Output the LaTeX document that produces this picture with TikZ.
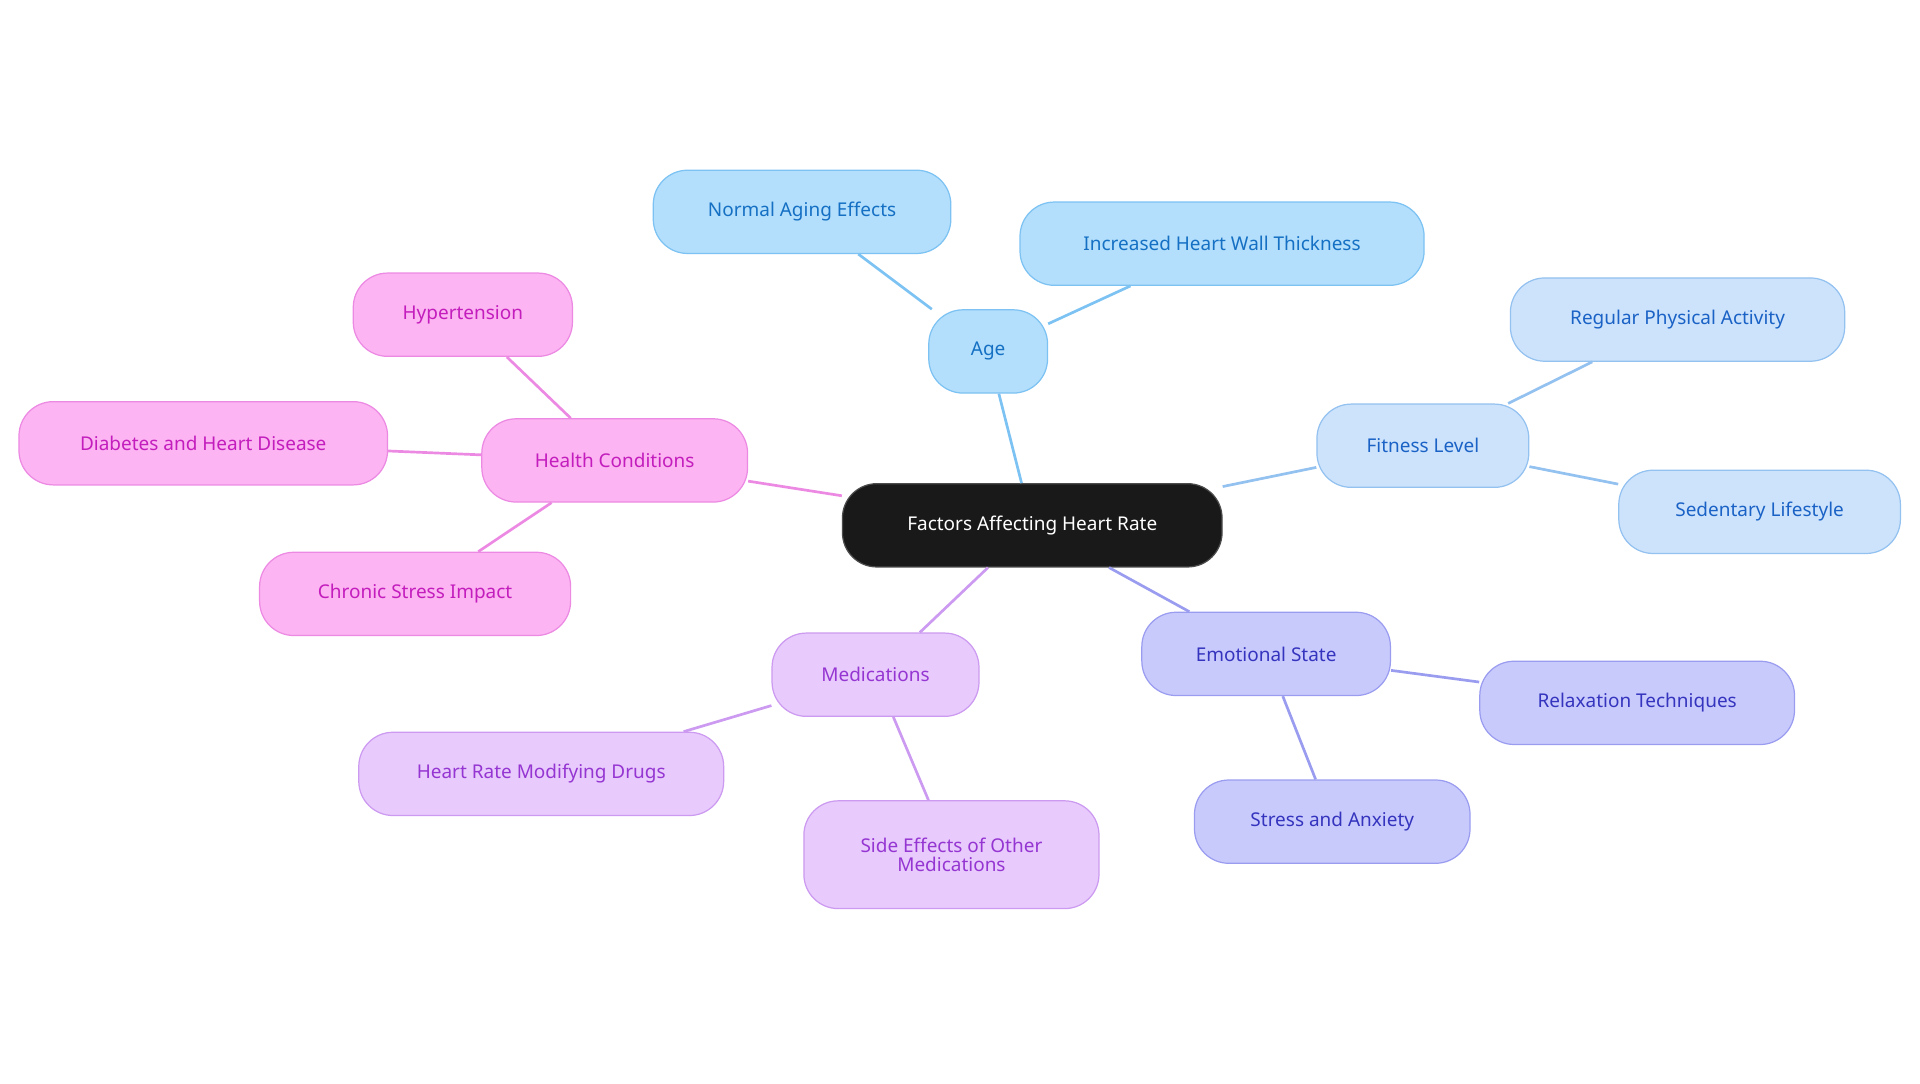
\documentclass[tikz,border=0pt]{standalone}
\usepackage{fontspec}
\setmainfont{Noto Sans}
\begin{document}
\begin{tikzpicture}[x=1pt,y=-1pt,
 box/.style={draw,line width=1pt,rounded corners=28pt,minimum height=68pt,inner sep=0pt,align=center,font=\fontsize{15.5}{19}\selectfont},
 age/.style={box,fill=ageF,draw=ageD,text=ageT},
 fit/.style={box,fill=fitF,draw=fitD,text=fitT},
 emo/.style={box,fill=emoF,draw=emoD,text=emoT},
 med/.style={box,fill=medF,draw=medD,text=medT},
 hea/.style={box,fill=heaF,draw=heaD,text=heaT},
 e/.style={line width=2.2pt}]
\definecolor{ageF}{HTML}{B3DFFC}\definecolor{ageD}{HTML}{7CC2F2}\definecolor{ageT}{HTML}{1570C4}
\definecolor{fitF}{HTML}{CDE3FB}\definecolor{fitD}{HTML}{93C1F0}\definecolor{fitT}{HTML}{1A62C6}
\definecolor{emoF}{HTML}{C9CAFC}\definecolor{emoD}{HTML}{9A9CF0}\definecolor{emoT}{HTML}{3434BE}
\definecolor{medF}{HTML}{E8CBFC}\definecolor{medD}{HTML}{CC9AF0}\definecolor{medT}{HTML}{9535D2}
\definecolor{heaF}{HTML}{FCB4F2}\definecolor{heaD}{HTML}{EC8AE3}\definecolor{heaT}{HTML}{C31DBD}
\useasboundingbox (0,0) rectangle (1568,884.5);
\node[box,fill=black!88!blue!60!black,fill=black!90,draw=black!70,text=white,minimum width=310pt] (c) at (843,429) {Factors Affecting Heart Rate};
\node[age,minimum width=97pt] (age) at (807,287) {Age};
\node[age,minimum width=243pt] (nae) at (655,173) {Normal Aging Effects};
\node[age,minimum width=330pt] (ihw) at (998,199) {Increased Heart Wall Thickness};
\node[fit,minimum width=173pt] (fit) at (1162,364) {Fitness Level};
\node[fit,minimum width=273pt] (rpa) at (1370,261) {Regular Physical Activity};
\node[fit,minimum width=230pt] (sed) at (1437,418) {Sedentary Lifestyle};
\node[emo,minimum width=203pt] (emo) at (1034,534) {Emotional State};
\node[emo,minimum width=257pt] (rel) at (1337,574) {Relaxation Techniques};
\node[emo,minimum width=225pt] (sa) at (1088,671) {Stress and Anxiety};
\node[med,minimum width=169pt] (med) at (715,551) {Medications};
\node[med,minimum width=298pt] (hrm) at (442,632) {Heart Rate Modifying Drugs};
\node[med,minimum width=241pt,minimum height=88pt] (se) at (777,698) {Side Effects of Other\\[-3pt]Medications};
\node[hea,minimum width=217pt] (hc) at (502,376) {Health Conditions};
\node[hea,minimum width=179pt] (hyp) at (378,257) {Hypertension};
\node[hea,minimum width=301pt] (dia) at (166,362) {Diabetes and Heart Disease};
\node[hea,minimum width=254pt] (csi) at (339,485) {Chronic Stress Impact};
\begin{scope}[on background layer/.style={}]
\end{scope}
\draw[e,draw=ageD] (c) -- (age) (age) -- (nae) (age) -- (ihw);
\draw[e,draw=fitD] (c) -- (fit) (fit) -- (rpa) (fit) -- (sed);
\draw[e,draw=emoD] (c) -- (emo) (emo) -- (rel) (emo) -- (sa);
\draw[e,draw=medD] (c) -- (med) (med) -- (hrm) (med) -- (se);
\draw[e,draw=heaD] (c) -- (hc) (hc) -- (hyp) (hc) -- (dia) (hc) -- (csi);
\end{tikzpicture}
\end{document}
